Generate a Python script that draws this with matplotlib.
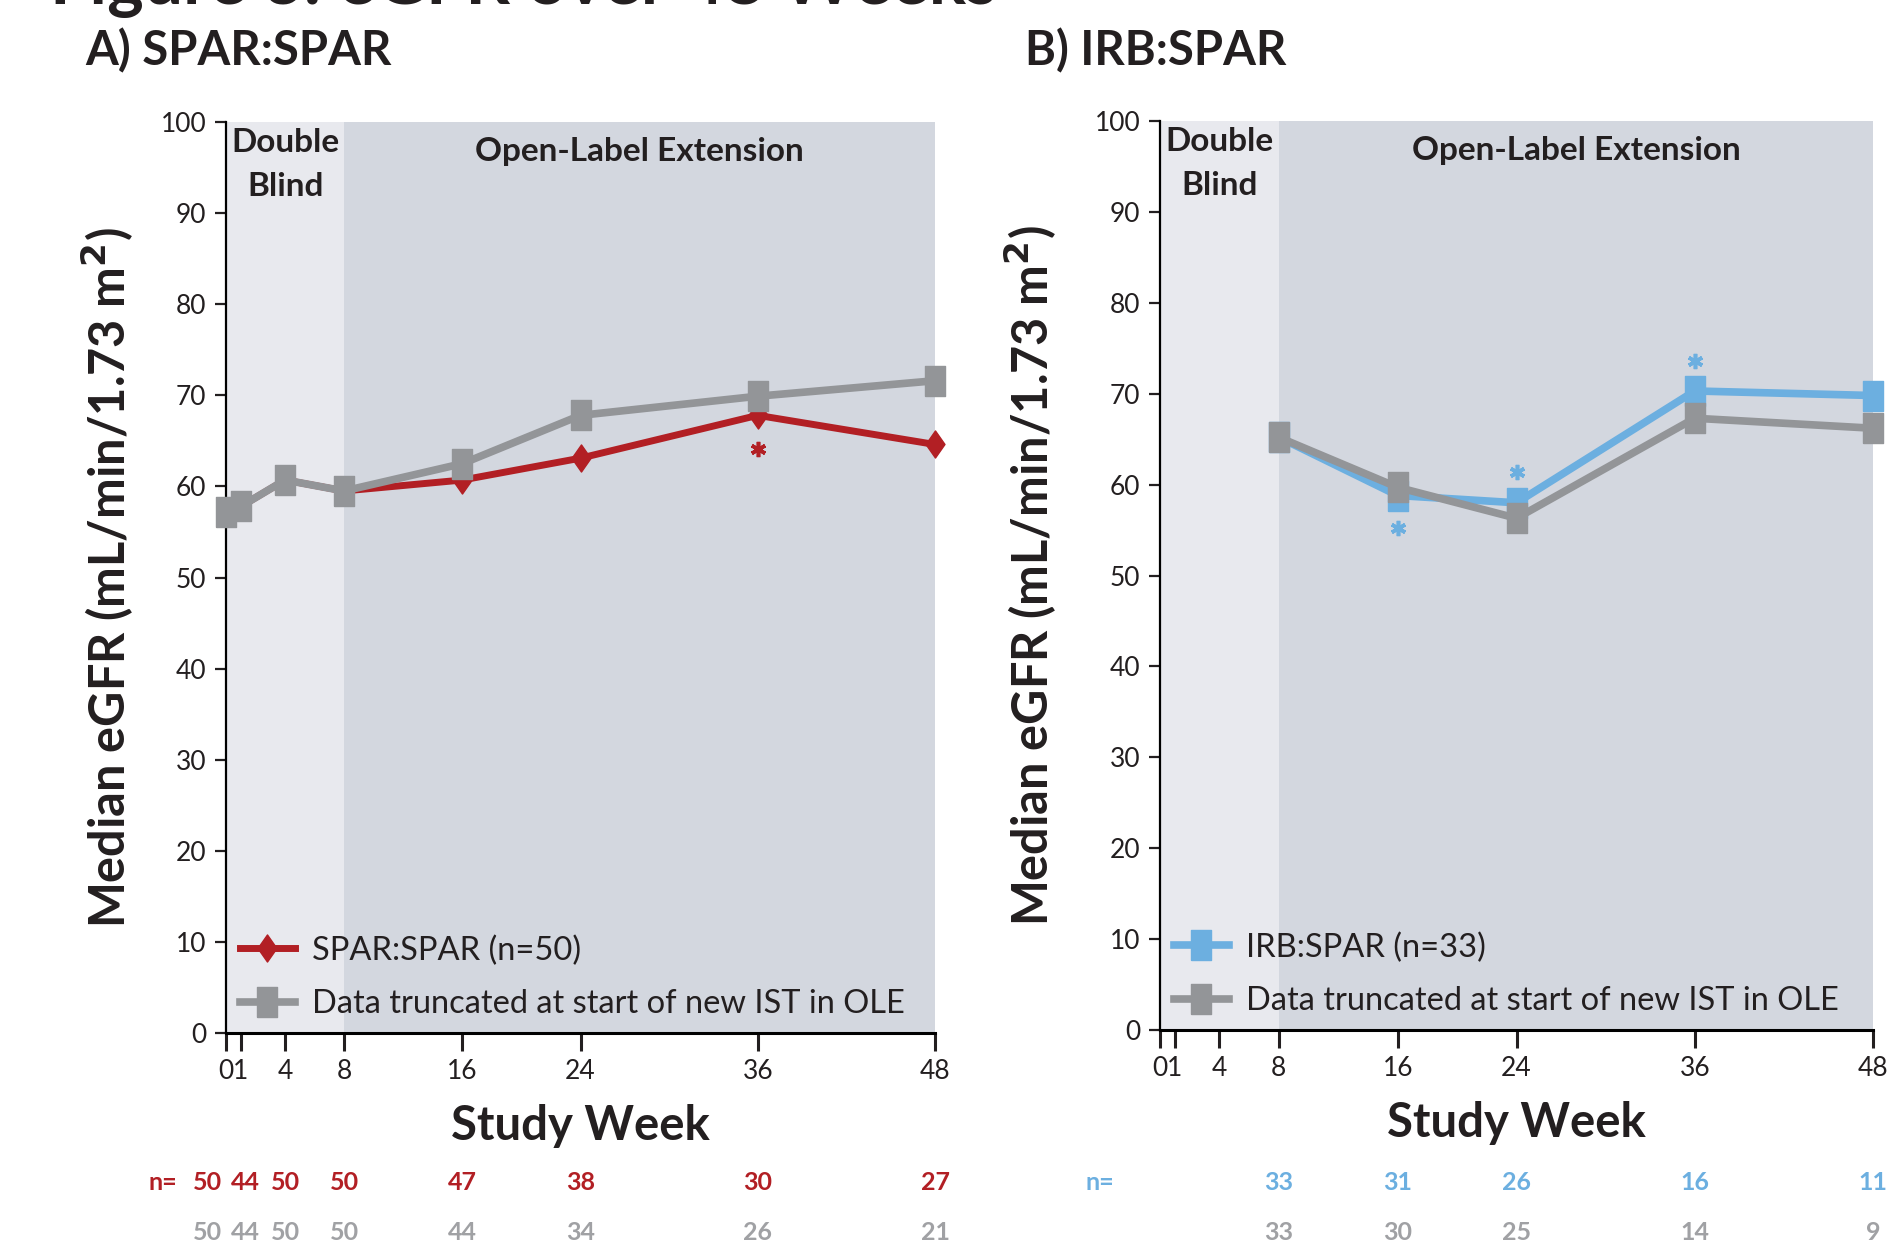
import matplotlib
matplotlib.use('Agg')

import matplotlib.pyplot as plt
import numpy as np

plt.rcParams['font.family'] = ['Lato', 'DejaVu Sans']

# panel A: SPAR:SPAR
weeks_a = [0, 1, 4, 8, 16, 24, 36, 48]
spar = [57.2, 57.8, 60.7, 59.5, 60.7, 63.1, 67.8, 64.6]
spar_trunc = [57.2, 57.8, 60.7, 59.5, 62.5, 67.8, 69.9, 71.6]
n_spar = ['50', '44', '50', '50', '47', '38', '30', '27']
n_spar_trunc = ['50', '44', '50', '50', '44', '34', '26', '21']
star_a_weeks = [36]
star_a_y = [64.1]

# panel B: IRB:SPAR
weeks_b = [8, 16, 24, 36, 48]
irb = [65.2, 58.8, 58.0, 70.3, 69.8]
irb_trunc = [65.2, 59.7, 56.3, 67.3, 66.2]
n_irb = ['33', '31', '26', '16', '11']
n_irb_trunc = ['33', '30', '25', '14', '9']
star_b_weeks = [16, 24, 36]
star_b_y = [55.2, 61.4, 73.6]

xticks = [0, 1, 4, 8, 16, 24, 36, 48]
xticklabels = ['0', '1', '4', '8', '16', '24', '36', '48']

RED = '#b21f24'
GRAY = '#939598'
GRAY_TXT = '#a0a1a4'
BLUE = '#6cafe0'
LIGHT = '#e8e9ee'
DARK = '#d3d7df'
INK = '#231f20'

diamond = [(-0.7, 0), (0, 1), (0.7, 0), (0, -1), (-0.7, 0)]
rect = [(-0.7, -1), (0.7, -1), (0.7, 1), (-0.7, 1), (-0.7, -1)]

fig = plt.figure(figsize=(18.95, 12.45), dpi=100)
ax_a = fig.add_axes([226 / 1895, 1 - 1033 / 1245, 709 / 1895, 911 / 1245])
ax_b = fig.add_axes([1160 / 1895, 1 - 1030 / 1245, 713 / 1895, 909 / 1245])


def style_axes(ax, ylabelpad):
    ax.set_xlim(0, 48)
    ax.set_ylim(0, 100)
    ax.axvspan(0, 8, color=LIGHT, zorder=0, lw=0)
    ax.axvspan(8, 48, color=DARK, zorder=0, lw=0)
    for s in ['top', 'right']:
        ax.spines[s].set_visible(False)
    ax.spines['left'].set_linewidth(1.6)
    ax.spines['bottom'].set_linewidth(2.2)
    ax.set_yticks(np.arange(0, 101, 10))
    ax.set_xticks(xticks)
    ax.set_xticklabels(xticklabels)
    ax.tick_params(axis='y', length=8, width=1.6, pad=6, labelsize=19, colors=INK)
    ax.tick_params(axis='x', length=13, width=2.2, pad=6, labelsize=19, colors=INK)
    ax.set_ylabel('Median eGFR (mL/min/1.73 m$^\\mathbf{2}$)', fontsize=35,
                  fontweight='bold', color=INK, labelpad=ylabelpad)
    ax.set_xlabel('Study Week', fontsize=34, fontweight='bold', color=INK, labelpad=14)
    ax.text(4, 99.3, 'Double\nBlind', ha='center', va='top', fontsize=24,
            fontweight='bold', color=INK, linespacing=1.6)
    ax.text(28, 98.4, 'Open-Label Extension', ha='center', va='top', fontsize=24,
            fontweight='bold', color=INK)


style_axes(ax_a, 18)
style_axes(ax_b, 26)

# panel A lines
ax_a.plot(weeks_a, spar, color=RED, lw=5, marker=diamond, ms=19.5,
          label='SPAR:SPAR (n=50)', zorder=3, clip_on=False)
ax_a.plot(weeks_a, spar_trunc, color=GRAY, lw=5.5, marker=rect, ms=21,
          label='Data truncated at start of new IST in OLE', zorder=4, clip_on=False)
ax_a.plot(star_a_weeks, star_a_y, ls='none', marker=(6, 2, 0), ms=11, mew=2.6,
          color=RED, zorder=5)

# panel B lines
ax_b.plot(weeks_b, irb, color=BLUE, lw=5.5, marker=rect, ms=21,
          label='IRB:SPAR (n=33)', zorder=3, clip_on=False)
ax_b.plot(weeks_b, irb_trunc, color=GRAY, lw=5.5, marker=rect, ms=21,
          label='Data truncated at start of new IST in OLE', zorder=4, clip_on=False)
ax_b.plot(star_b_weeks, star_b_y, ls='none', marker=(6, 2, 0), ms=11, mew=2.6,
          color=BLUE, zorder=5)

for ax in (ax_a, ax_b):
    leg = ax.legend(loc='lower left', bbox_to_anchor=(0.0, 0.0), frameon=False,
                    fontsize=23.5, handlelength=1.7, handletextpad=0.5,
                    labelspacing=0.72, borderaxespad=0.02)
    for t in leg.get_texts():
        t.set_color(INK)

# n= rows
row1_y = 1 - 1182 / 1245
row2_y = 1 - 1233 / 1245


def n_row(ax, weeks, vals, y, color):
    tr = ax.get_xaxis_transform()
    ypos = (fig.transFigure + ax.transAxes.inverted()).transform((0, y))[1]
    for w, v in zip(weeks, vals):
        ha, dx = 'center', 0
        if w == 0:
            ha, dx = 'right', -3
        elif w == 1:
            dx = 3
        ax.annotate(v, (w, ypos), xycoords=tr, xytext=(dx, 0),
                    textcoords='offset points', ha=ha, va='center', fontsize=18,
                    fontweight='bold', color=color, annotation_clip=False)


n_row(ax_a, weeks_a, n_spar, row1_y, RED)
n_row(ax_a, weeks_a, n_spar_trunc, row2_y, GRAY_TXT)
n_row(ax_b, weeks_b, n_irb, row1_y, BLUE)
n_row(ax_b, weeks_b, n_irb_trunc, row2_y, GRAY_TXT)
fig.text(163 / 1895, row1_y, 'n=', ha='center', va='center', fontsize=18,
         fontweight='bold', color=RED)
fig.text(1100 / 1895, row1_y, 'n=', ha='center', va='center', fontsize=18,
         fontweight='bold', color=BLUE)

# panel titles
fig.text(85 / 1895, 1 - 51 / 1245, 'A) SPAR:SPAR', ha='left', va='center',
         fontsize=34, fontweight='bold', color=INK)
fig.text(1025 / 1895, 1 - 51 / 1245, 'B) IRB:SPAR', ha='left', va='center',
         fontsize=34, fontweight='bold', color=INK)

# figure title, cut off at the top edge as in the source
fig.text(50 / 1895, 1 - 4 / 1245, 'Figure 3: eGFR over 48 Weeks', ha='left',
         va='baseline', fontsize=50, fontweight='bold', color=INK)

fig.savefig('out.png', dpi=100)
